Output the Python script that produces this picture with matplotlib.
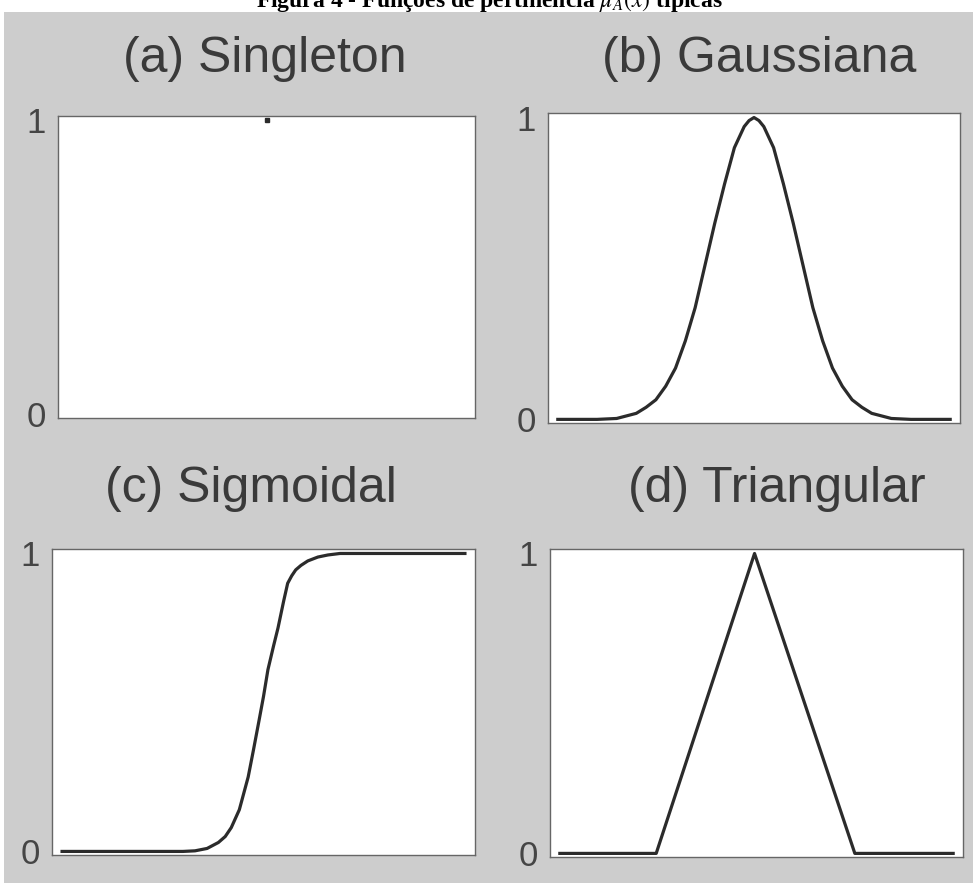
import matplotlib
matplotlib.use("Agg")
import matplotlib.pyplot as plt
from matplotlib.patches import Rectangle

# ======= Data (x in 0..10, membership in 0..1) =======

# (a) Singleton
single_x = [5.0]
single_y = [1.0]

# (b) Gaussiana
gauss_x = [0, 1.0, 1.5, 2.0, 2.25, 2.5, 2.75, 3.0, 3.25, 3.5, 3.75, 4.0, 4.25,
           4.5, 4.75, 4.875, 5.0, 5.125, 5.25, 5.5, 5.75, 6.0, 6.25, 6.5, 6.75,
           7.0, 7.25, 7.5, 7.75, 8.0, 8.5, 9.0, 10]
gauss_y = [0, 0, 0.003, 0.02, 0.04, 0.065, 0.11, 0.17, 0.26, 0.37, 0.51, 0.65, 0.78,
           0.90, 0.97, 0.99, 1.0, 0.99, 0.97, 0.90, 0.78, 0.65, 0.51, 0.37, 0.26,
           0.17, 0.11, 0.065, 0.04, 0.02, 0.003, 0, 0]

# (c) Sigmoidal
sig_x = [0, 3.0, 3.3, 3.6, 3.88, 4.05, 4.2, 4.4, 4.62, 4.75, 4.89, 5.0, 5.11,
         5.25, 5.36, 5.5, 5.6, 5.7, 5.8, 5.93, 6.1, 6.35, 6.6, 6.9, 10]
sig_y = [0, 0, 0.002, 0.01, 0.03, 0.05, 0.08, 0.14, 0.25, 0.34, 0.44, 0.52, 0.61,
         0.69, 0.75, 0.84, 0.90, 0.925, 0.945, 0.96, 0.975, 0.988, 0.995, 1.0, 1.0]

# (d) Triangular
tri_x = [0, 2.45, 4.95, 7.5, 10]
tri_y = [0, 0, 1, 0, 0]

titles = ["(a) Singleton", "(b) Gaussiana", "(c) Sigmoidal", "(d) Triangular"]
ytick_vals = [0, 1]
ytick_labels = ["0", "1"]
caption = r"Figura 4 - Funções de pertinência $\mu_A(x)$ típicas"

# ======= Plotting =======

plt.rcParams["font.family"] = ["Liberation Sans", "DejaVu Sans"]
plt.rcParams["mathtext.fontset"] = "stix"

W, H = 973, 883
fig = plt.figure(figsize=(W / 100, H / 100), dpi=100)
fig.patch.set_facecolor("white")

# scanned grey page behind the panels
fig.patches.append(Rectangle((4 / W, 0), 1, 1 - 12 / H, transform=fig.transFigure,
                             facecolor="#cdcdcd", edgecolor="none", zorder=-10))

line_col = "#2b2b2b"
lw = 2.3

# axes boxes in pixels: left, top, right, bottom
boxes = [(58, 116, 475, 418),
         (548, 113, 960, 423),
         (52, 549, 475, 855),
         (550, 549, 963, 857)]

axes = []
for (l, t, r, b) in boxes:
    ax = fig.add_axes([l / W, 1 - b / H, (r - l) / W, (b - t) / H])
    ax.set_facecolor("white")
    ax.set_xlim(-0.25, 10.25)
    ax.set_ylim(-0.012, 1.015)
    ax.set_xticks([])
    ax.set_yticks(ytick_vals)
    ax.set_yticklabels(ytick_labels)
    ax.tick_params(axis="y", length=0, pad=9, labelsize=25, labelcolor="#454545")
    for s in ax.spines.values():
        s.set_color("#666666")
        s.set_linewidth(1.0)
    axes.append(ax)

axes[0].plot(single_x, single_y, "s", color=line_col, markersize=3.2, clip_on=False)
axes[1].plot(gauss_x, gauss_y, color=line_col, lw=lw, clip_on=False)
axes[2].plot(sig_x, sig_y, color=line_col, lw=lw, clip_on=False)
axes[3].plot(tri_x, tri_y, color=line_col, lw=lw, clip_on=False)

# panel titles (centre x, baseline y in pixels)
title_pos = [(265, 72), (759, 72), (251, 502), (777, 502)]
for txt, (cx, by) in zip(titles, title_pos):
    fig.text(cx / W, 1 - by / H, txt, ha="center", va="baseline",
             fontsize=36, color="#3a3a3a")

# caption at the top edge of the scan (only its lower half shows in the reference)
fig.text(489 / W, 1 - 7 / H, caption, ha="center", va="baseline",
         fontsize=17, fontweight="bold", family="Liberation Serif", color="black")

plt.savefig("out.png", dpi=100, facecolor=fig.get_facecolor())
